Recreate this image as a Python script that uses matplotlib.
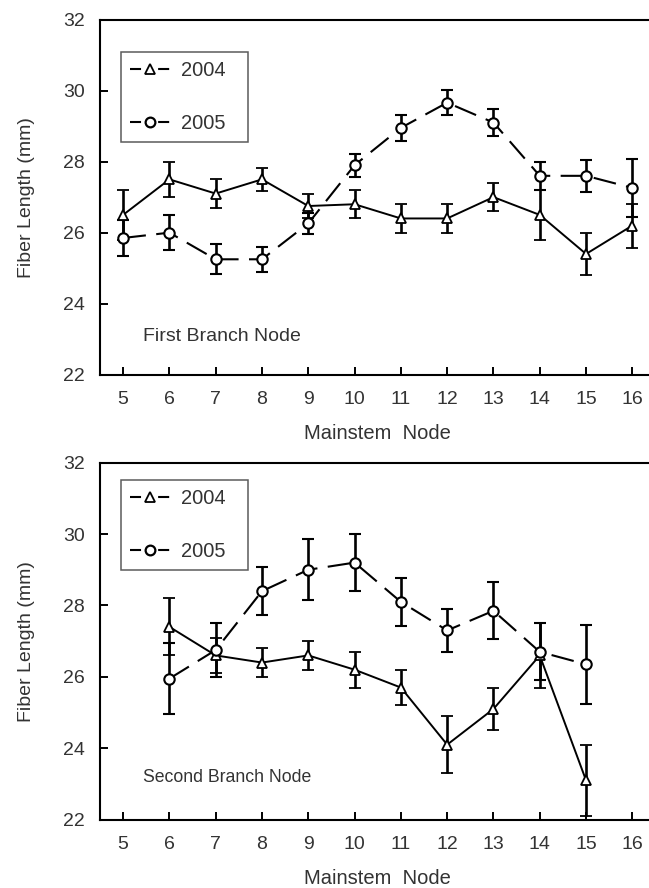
import matplotlib
matplotlib.use("Agg")
import matplotlib.pyplot as plt
from matplotlib.lines import Line2D

plt.rcParams['font.family'] = ['Liberation Sans', 'DejaVu Sans']

# Mainstem node positions
nodes_first = [5, 6, 7, 8, 9, 10, 11, 12, 13, 14, 15, 16]
nodes_second = [6, 7, 8, 9, 10, 11, 12, 13, 14, 15]

# First branch node: fiber length (mm) and error
first_2004 = [26.5, 27.5, 27.1, 27.5, 26.75, 26.8, 26.4, 26.4, 27.0, 26.5, 25.4, 26.2]
first_2004_err = [0.7, 0.5, 0.4, 0.32, 0.35, 0.4, 0.4, 0.4, 0.4, 0.7, 0.6, 0.62]
first_2005 = [25.85, 26.0, 25.25, 25.25, 26.26, 27.9, 28.95, 29.66, 29.1, 27.6, 27.6, 27.26]
first_2005_err = [0.5, 0.5, 0.42, 0.35, 0.3, 0.32, 0.37, 0.35, 0.38, 0.4, 0.45, 0.82]

# Second branch node: fiber length (mm) and error
second_2004 = [27.4, 26.6, 26.4, 26.6, 26.2, 25.7, 24.1, 25.1, 26.6, 23.1]
second_2004_err = [0.8, 0.5, 0.4, 0.4, 0.5, 0.5, 0.8, 0.6, 0.9, 1.0]
second_2005 = [25.95, 26.75, 28.4, 29.0, 29.2, 28.1, 27.3, 27.85, 26.7, 26.35]
second_2005_err = [1.0, 0.75, 0.68, 0.85, 0.8, 0.67, 0.6, 0.8, 0.8, 1.1]

years = ["2004", "2005"]
xticks = list(range(5, 17))
yticks = [22, 24, 26, 28, 30, 32]

TEXT = "#333333"
DASH = (11, 5)
LEGEND_DASH = (0, (5.3, 8.2))

fig = plt.figure(figsize=(6.49, 8.88), dpi=100)
ax1 = fig.add_axes([0.154, 0.578, 0.856, 0.400])
ax2 = fig.add_axes([0.154, 0.077, 0.856, 0.402])


def draw_panel(ax, x, y04, e04, y05, e05, note, note_size, note_y, legend_top):
    ax.errorbar(x, y04, yerr=e04, color="black", lw=1.4, elinewidth=1.9,
                capsize=4.3, capthick=1.9, marker="^", ms=7, mfc="white",
                mec="black", mew=1.3, zorder=3)
    line05 = ax.errorbar(x, y05, yerr=e05, color="black", lw=1.5, elinewidth=1.9,
                         capsize=4.3, capthick=1.9, marker="o", ms=7.5, mfc="white",
                         mec="black", mew=1.5, zorder=3)
    line05.lines[0].set_dashes(DASH)

    ax.set_xlim(4.5, 16.5)
    ax.set_ylim(22, 32)
    ax.set_xticks(xticks)
    ax.set_yticks(yticks)
    ax.tick_params(direction="in", length=6, width=1.4, labelsize=14,
                   labelcolor=TEXT)
    ax.tick_params(axis="x", pad=12)
    ax.tick_params(axis="y", pad=11)
    for s in ax.spines.values():
        s.set_linewidth(1.5)
    ax.set_xlabel("Mainstem  Node", fontsize=14.5, color=TEXT, labelpad=11)
    ax.set_ylabel("Fiber Length (mm)", fontsize=14, color=TEXT, labelpad=20)
    ax.text(0.078, note_y, note, transform=ax.transAxes, fontsize=note_size,
            color=TEXT, va="center", ha="left")

    handles = [
        Line2D([], [], color="black", lw=1.5, ls=LEGEND_DASH, marker="^",
               ms=6.5, mfc="white", mec="black", mew=1.3),
        Line2D([], [], color="black", lw=1.5, ls=LEGEND_DASH, marker="o",
               ms=7, mfc="white", mec="black", mew=1.6),
    ]
    leg = ax.legend(handles, years, loc="upper left",
                    bbox_to_anchor=(0.038, legend_top - 0.25, 0.229, 0.25),
                    mode="expand", fontsize=14.5, frameon=True, fancybox=False,
                    handlelength=2.0, labelspacing=1.7, borderpad=0.45,
                    handletextpad=0.55, borderaxespad=0)
    leg.get_frame().set_edgecolor("#333333")
    leg.get_frame().set_linewidth(1.1)
    for t in leg.get_texts():
        t.set_color(TEXT)


draw_panel(ax1, nodes_first, first_2004, first_2004_err, first_2005, first_2005_err,
           "First Branch Node", 14, 0.107, 0.91)
draw_panel(ax2, nodes_second, second_2004, second_2004_err, second_2005, second_2005_err,
           "Second Branch Node", 12.7, 0.118, 0.952)

fig.savefig("out.png", dpi=100)
